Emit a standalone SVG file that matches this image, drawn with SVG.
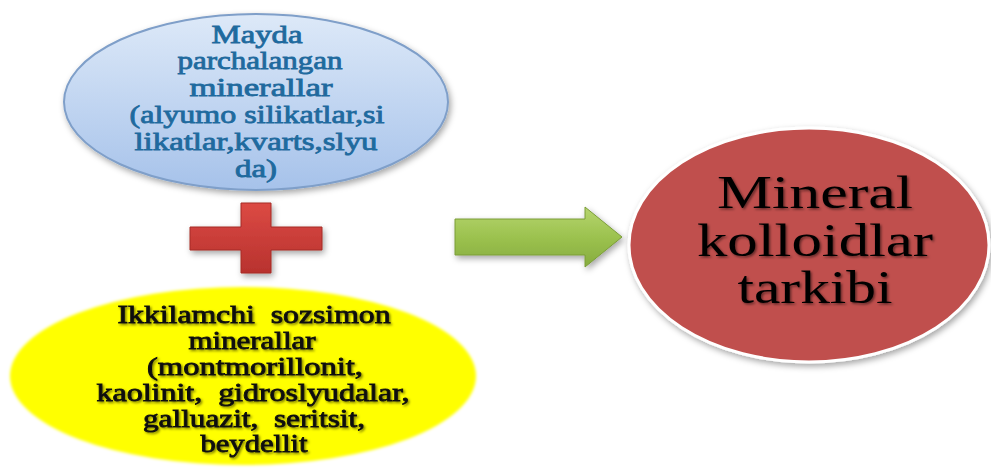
<svg xmlns="http://www.w3.org/2000/svg" width="991" height="468" viewBox="0 0 991 468">
<style>
.blue{font-size:25px;fill:#1F6A9E;stroke:#1F6A9E;stroke-width:0.8px;text-anchor:middle;white-space:pre}
.yel{font-size:25px;fill:#111;stroke:#111;stroke-width:0.8px;text-anchor:middle;white-space:pre}
.red{font-size:46px;fill:#000;text-anchor:middle}
</style>
<defs>
<linearGradient id="gBlue" x1="0" y1="0" x2="0" y2="1">
<stop offset="0" stop-color="#dde9f8"/>
<stop offset="1" stop-color="#a6c2ea"/>
</linearGradient>
<linearGradient id="gRedCross" x1="0" y1="0" x2="0" y2="1">
<stop offset="0" stop-color="#dc4a44"/>
<stop offset="1" stop-color="#b8322e"/>
</linearGradient>
<linearGradient id="gGreen" x1="0" y1="0" x2="0" y2="1">
<stop offset="0" stop-color="#b6d56e"/>
<stop offset="0.5" stop-color="#9cc24f"/>
<stop offset="1" stop-color="#86ac3e"/>
</linearGradient>
<filter id="sh" x="-20%" y="-20%" width="140%" height="140%">
<feDropShadow dx="2" dy="3" stdDeviation="3" flood-color="#000" flood-opacity="0.35"/>
</filter>
<filter id="tsh" x="-10%" y="-30%" width="120%" height="160%">
<feDropShadow dx="1.5" dy="1.5" stdDeviation="1" flood-color="#000" flood-opacity="0.5"/>
</filter>
<filter id="soft" x="-10%" y="-10%" width="120%" height="120%">
<feGaussianBlur stdDeviation="1.5"/>
</filter>
</defs>
<rect width="991" height="468" fill="#fff"/>

<g id="node-blue" font-family="Liberation Serif, Times New Roman, serif">
<ellipse cx="256" cy="102" rx="192" ry="88" fill="url(#gBlue)" stroke="#7f9fc9" stroke-width="2" filter="url(#sh)"/>
<text class="blue" x="257" y="43" textLength="91" lengthAdjust="spacingAndGlyphs">Mayda</text>
<text class="blue" x="260" y="69" textLength="165" lengthAdjust="spacingAndGlyphs">parchalangan</text>
<text class="blue" x="261" y="96" textLength="143" lengthAdjust="spacingAndGlyphs">minerallar</text>
<text class="blue" x="257" y="123" textLength="255" lengthAdjust="spacingAndGlyphs">(alyumo silikatlar,si</text>
<text class="blue" x="256" y="150" textLength="243" lengthAdjust="spacingAndGlyphs">likatlar,kvarts,slyu</text>
<text class="blue" x="256" y="177" textLength="42" lengthAdjust="spacingAndGlyphs">da)</text>
</g>

<g id="node-yellow" font-family="Liberation Serif, Times New Roman, serif">
<ellipse cx="243" cy="376" rx="233" ry="89" fill="#ffff00" filter="url(#soft)"/>
<g filter="url(#tsh)">
<text class="yel" x="254" y="323" textLength="273" lengthAdjust="spacingAndGlyphs" xml:space="preserve">Ikkilamchi  sozsimon</text>
<text class="yel" x="252" y="349" textLength="127" lengthAdjust="spacingAndGlyphs">minerallar</text>
<text class="yel" x="255" y="375" textLength="216" lengthAdjust="spacingAndGlyphs">(montmorillonit,</text>
<text class="yel" x="253" y="401" textLength="313" lengthAdjust="spacingAndGlyphs" xml:space="preserve">kaolinit,  gidroslyudalar,</text>
<text class="yel" x="254" y="427" textLength="222" lengthAdjust="spacingAndGlyphs" xml:space="preserve">galluazit,  seritsit,</text>
<text class="yel" x="254" y="452" textLength="107" lengthAdjust="spacingAndGlyphs">beydellit</text>
</g>
</g>

<g id="node-plus">
<path d="M241,203 H271 V227 H322 V250 H271 V273 H241 V250 H190 V227 H241 Z" fill="url(#gRedCross)" stroke="#a52a26" stroke-width="1" filter="url(#sh)"/>
</g>

<g id="connectors">
<path d="M455,219 H585 V207 L622,237 L585,267 V255 H455 Z" fill="url(#gGreen)" stroke="#7a9c38" stroke-width="1" filter="url(#sh)"/>
</g>

<g id="node-red" font-family="Liberation Serif, Times New Roman, serif">
<ellipse cx="809" cy="245" rx="180" ry="117" fill="#c0504d" stroke="#ffffff" stroke-width="3" filter="url(#sh)"/>
<g filter="url(#tsh)">
<text class="red" x="815" y="208" textLength="196" lengthAdjust="spacingAndGlyphs">Mineral</text>
<text class="red" x="815" y="256" textLength="236" lengthAdjust="spacingAndGlyphs">kolloidlar</text>
<text class="red" x="815" y="303" textLength="155" lengthAdjust="spacingAndGlyphs">tarkibi</text>
</g>
</g>
</svg>
